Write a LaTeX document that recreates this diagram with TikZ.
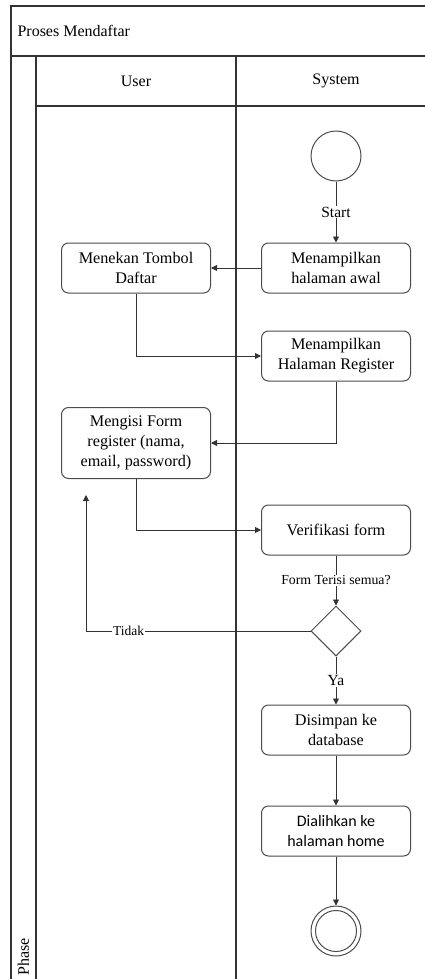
\documentclass[tikz,border=0pt]{standalone}
\usepackage{fontspec}
\setmainfont{Liberation Serif}
\newfontfamily\calibrifont{Carlito}
\usetikzlibrary{shapes.geometric,arrows.meta,positioning}
\begin{document}
\begin{tikzpicture}[x=1pt,y=-1pt,
  frame/.style={draw=black!80,line width=1.3pt},
  act/.style={draw=black!70,line width=1pt,rounded corners=7pt,minimum width=149pt,minimum height=50pt,
              align=center,inner sep=2pt,font=\fontsize{16.2}{20}\selectfont},
  flow/.style={draw=black!80,line width=0.9pt,-{Triangle[length=6pt,width=6pt]}},
  lbl/.style={fill=white,inner sep=1pt,font=\fontsize{15.5}{17}\selectfont},
  hdr/.style={font=\fontsize{16}{18}\selectfont}]
\useasboundingbox (0,0) rectangle (425,979);
\fill[white] (0,0) rectangle (425,979);

% swimlane frame
\draw[frame] (425,6) -- (11,6) -- (11,979);
\draw[frame] (11,56) -- (425,56);
\draw[frame] (36,56) -- (36,979);
\draw[frame] (236,56) -- (236,979);
\draw[frame] (36,106) -- (425,106);
\node[hdr,anchor=west] (title) at (14,31) {Proses Mendaftar};
\node[hdr] (laneU) at (136,81) {User};
\node[hdr] (laneS) at (336,81) {System};
\node[hdr,rotate=90,anchor=west] (phase) at (23.5,979) {Phase};

% activities
\node[circle,draw=black!70,line width=1pt,minimum size=50pt,inner sep=0pt] (start) at (336,156) {};
\node[act] (awal) at (336,268) {Menampilkan\\halaman awal};
\node[act] (tombol) at (136,268) {Menekan Tombol\\Daftar};
\node[act] (reg) at (336,356) {Menampilkan\\Halaman Register};
\node[act,minimum height=71pt] (isi) at (136,443) {Mengisi Form\\register (nama,\\email, password)};
\node[act] (verif) at (336,530) {Verifikasi form};
\node[diamond,draw=black!70,line width=1pt,minimum width=50pt,minimum height=50pt,inner sep=0pt] (cek) at (336,631) {};
\node[act] (simpan) at (336,730) {Disimpan ke\\database};
\node[act,font=\calibrifont\fontsize{16}{19.5}\selectfont] (home) at (336,831) {Dialihkan ke\\halaman home};
\node[circle,draw=black!70,line width=1pt,minimum size=50pt,inner sep=0pt] (end) at (336,931) {};
\node[circle,draw=black!70,line width=1pt,minimum size=41pt,inner sep=0pt] (endin) at (336,931) {};

% connectors
\draw[flow] (start) -- node[lbl] {Start} (awal);
\draw[flow] (awal) -- (tombol);
\draw[flow] (tombol.south) |- (reg.west);
\draw[flow] (reg.south) |- (isi.east);
\draw[flow] (isi.south) |- (verif.west);
\draw[flow] (verif) -- node[lbl,font=\fontsize{13.8}{15}\selectfont] {Form Terisi semua?} (cek);
\coordinate (back) at (86,495);
\draw[flow] (cek.west) -- node[lbl,pos=0.81,font=\fontsize{13.5}{15}\selectfont] {Tidak} (86,631) -- (back);
\draw[flow] (cek) -- node[lbl] {Ya} (simpan);
\draw[flow] (simpan) -- (home);
\draw[flow] (home) -- (end);
\end{tikzpicture}
\end{document}
